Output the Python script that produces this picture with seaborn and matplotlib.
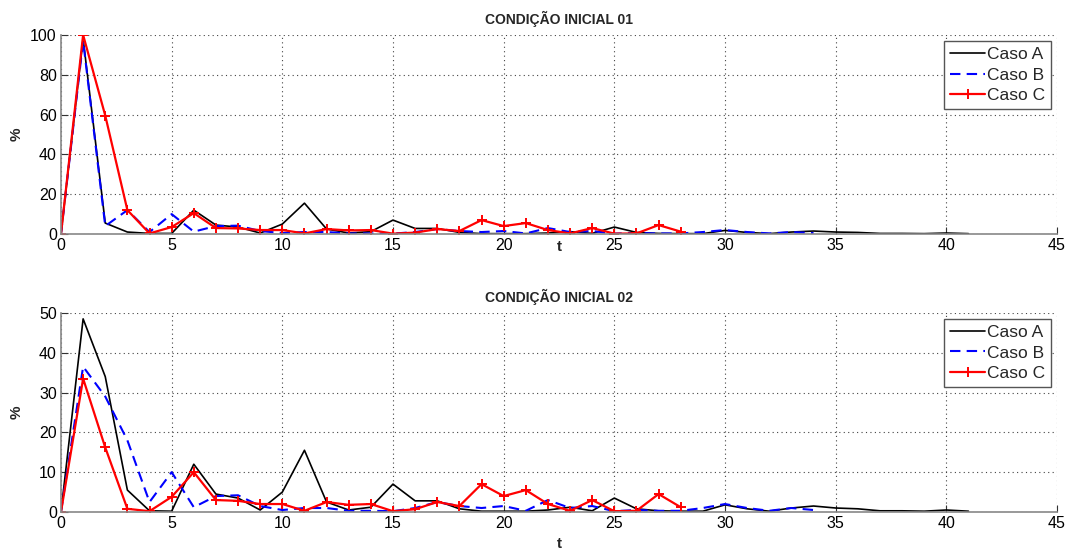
import pandas as pd
import matplotlib
matplotlib.use("Agg")
import matplotlib.pyplot as plt
import seaborn as sns

sns.set_style("white")
plt.rcParams['font.family'] = ['Liberation Sans', 'DejaVu Sans']

# ---------------- data ----------------
# condicao inicial 01
ci1_a = [0, 98, 5.5, 1, 0.3, 0.3, 12, 4.5, 3.5, 0.5, 5, 15.5, 2.5, 0.5, 1.2, 7, 2.8, 2.8,
         0.8, 0.2, 0.2, 0.2, 0.5, 1.2, 0.3, 3.5, 0.8, 0.3, 0.2, 0.2, 1.8, 0.8, 0.2, 1, 1.5,
         1, 0.8, 0.3, 0.3, 0.2, 0.5, 0.2]
ci1_b = [0, 97, 4, 12, 1, 10, 1.2, 4, 4.2, 1.5, 0.5, 1, 1, 0.3, 0.3, 0.2, 1, 2.5, 1.5, 1,
         1.5, 0.3, 3, 1, 1.5, 0.2, 0.5, 0.3, 0.3, 1, 2, 1, 0.3, 1, 0.5]
ci1_c = [0, 100, 59.5, 12, 0.3, 3.5, 10.5, 3, 2.8, 2, 2, 0.3, 2.5, 1.8, 2, 0.2, 0.7, 2.5,
         1.5, 7, 4, 5.5, 2, 0.3, 3, 0.2, 0.3, 4.5, 1.2]

# condicao inicial 02
ci2_a = [0, 48.5, 34, 5.5, 0.3, 0.2, 12, 4.5, 3.5, 0.5, 5, 15.5, 2.5, 0.5, 1.2, 7, 2.8, 2.8,
         0.8, 0.2, 0.2, 0.2, 0.5, 1.2, 0.3, 3.5, 0.8, 0.3, 0.2, 0.2, 1.8, 0.8, 0.2, 1, 1.5,
         1, 0.8, 0.3, 0.3, 0.2, 0.5, 0.2]
ci2_b = [0, 36.5, 29, 18, 2.5, 10, 1.2, 4, 4.2, 1.5, 0.5, 1, 1, 0.3, 0.3, 0.2, 1, 2.5, 1.5,
         1, 1.5, 0.3, 3, 1, 1.5, 0.2, 0.5, 0.3, 0.3, 1, 2, 1, 0.3, 1, 0.5]
ci2_c = [0, 33.5, 16.2, 0.8, 0.2, 3.8, 10, 3, 2.8, 2, 2, 0.3, 2.5, 1.8, 2, 0.2, 0.7, 2.5,
         1.5, 7, 4, 5.5, 2, 0.3, 3, 0.2, 0.3, 4.5, 1.2]

titles = ['CONDIÇÃO INICIAL 01', 'CONDIÇÃO INICIAL 02']
y_max = [100, 50]
y_ticks = [[0, 20, 40, 60, 80, 100], [0, 10, 20, 30, 40, 50]]
x_ticks = list(range(0, 50, 5))

paineis = [(ci1_a, ci1_b, ci1_c), (ci2_a, ci2_b, ci2_c)]

# ---------------- figure ----------------
fig = plt.figure(figsize=(10.68, 5.5), dpi=100)
ax1 = fig.add_axes([0.0571, 0.5745, 0.9326, 0.362])
ax2 = fig.add_axes([0.0571, 0.0691, 0.9326, 0.362])

# posicao do 't' (o de cima fica colado nos ticks, como no original)
t_pos = [-0.03, -0.125]

for ax, (a, b, c), tit, ym, yt, tp in zip([ax1, ax2], paineis, titles, y_max, y_ticks, t_pos):
    da = pd.DataFrame({'t': range(len(a)), 'v': a})
    db = pd.DataFrame({'t': range(len(b)), 'v': b})
    dc = pd.DataFrame({'t': range(len(c)), 'v': c})
    sns.lineplot(data=da, x='t', y='v', ax=ax, color='black', lw=1.2, label='Caso A')
    sns.lineplot(data=db, x='t', y='v', ax=ax, color='#0000ff', lw=1.5,
                 linestyle=(0, (5, 3)), label='Caso B')
    sns.lineplot(data=dc, x='t', y='v', ax=ax, color='#ff0000', lw=1.6, marker='+',
                 markersize=6.5, markeredgewidth=1.4, markeredgecolor='#ff0000', label='Caso C')

    ax.set_xlim(0, 45)
    ax.set_ylim(0, ym)
    ax.set_xticks(x_ticks)
    ax.set_yticks(yt)
    ax.grid(True, linestyle=(0, (1, 3)), color='#444444', lw=0.8)
    ax.set_title(tit, fontsize=10, fontweight='bold', pad=8)
    ax.set_xlabel('t', fontsize=11, fontweight='bold')
    ax.xaxis.set_label_coords(0.5, tp)
    ax.set_ylabel('%', fontsize=11, fontweight='bold')
    ax.yaxis.set_label_coords(-0.038, 0.5)
    ax.tick_params(direction='in', length=5, width=0.8, colors='#333333',
                   labelcolor='black', labelsize=11.5, pad=3, bottom=True, left=True)
    ax.spines['top'].set_visible(False)
    ax.spines['right'].set_visible(False)
    for s in ['left', 'bottom']:
        ax.spines[s].set_color('#888888')
        ax.spines[s].set_linewidth(1.2)
    leg = ax.legend(loc='upper right', fontsize=12.5, handlelength=2.0, handletextpad=0.1,
                    borderpad=0.35, labelspacing=0.3, fancybox=False, framealpha=1,
                    borderaxespad=0.35)
    leg.get_frame().set_edgecolor('#555555')
    leg.get_frame().set_linewidth(1.0)

fig.savefig('out.png', dpi=100)
